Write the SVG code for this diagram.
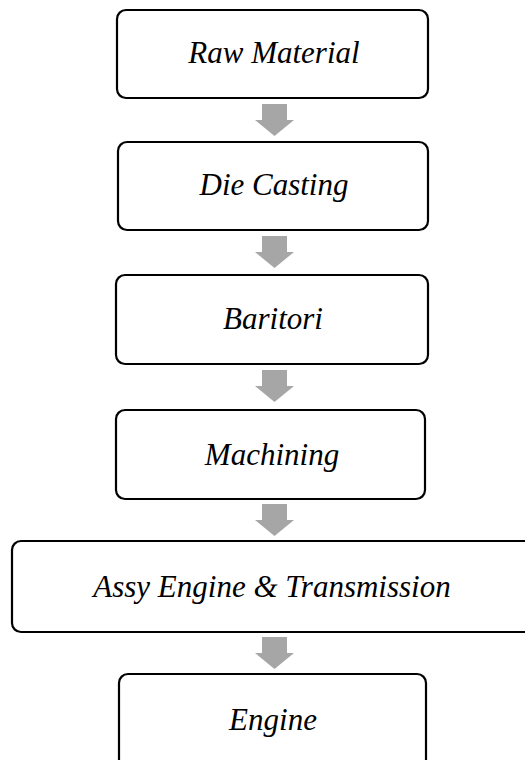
<svg xmlns="http://www.w3.org/2000/svg" width="525" height="760" viewBox="0 0 525 760">
  <style>
    .box { fill: #ffffff; stroke: #000000; stroke-width: 2.2; }
    .label { font-family: "Liberation Serif", "Times New Roman", serif; font-style: italic; font-size: 31px; fill: #000000; text-anchor: middle; }
    .arrow { fill: #a6a6a6; }
  </style>
  <defs>
    <!-- block arrow pointing down, origin at top centre of its shaft -->
    <path id="down" d="M -12.5 0 H 12.5 V 16 H 19.5 L 0 32 L -19.5 16 H -12.5 Z"/>
  </defs>
  <rect width="525" height="760" fill="#ffffff"/>

  <g id="connectors">
    <use href="#down" class="arrow" x="274.5" y="104"/>
    <use href="#down" class="arrow" x="274.5" y="236"/>
    <use href="#down" class="arrow" x="274.5" y="370"/>
    <use href="#down" class="arrow" x="274.5" y="504"/>
    <use href="#down" class="arrow" x="274.5" y="637"/>
  </g>

  <g id="raw-material">
    <rect class="box" x="117" y="10" width="311" height="88" rx="9"/>
    <text class="label" x="274" y="63">Raw Material</text>
  </g>
  <g id="die-casting">
    <rect class="box" x="118" y="142" width="310" height="88" rx="9"/>
    <text class="label" x="274" y="195">Die Casting</text>
  </g>
  <g id="baritori">
    <rect class="box" x="116" y="275" width="312" height="89" rx="9"/>
    <text class="label" x="273" y="329">Baritori</text>
  </g>
  <g id="machining">
    <rect class="box" x="116" y="410" width="309" height="89" rx="9"/>
    <text class="label" x="272" y="465">Machining</text>
  </g>
  <g id="assy-engine-transmission">
    <rect class="box" x="12" y="541" width="522" height="91" rx="9"/>
    <text class="label" x="272" y="597">Assy Engine &amp; Transmission</text>
  </g>
  <g id="engine">
    <rect class="box" x="119" y="674" width="307" height="100" rx="9"/>
    <text class="label" x="273" y="730">Engine</text>
  </g>
</svg>
